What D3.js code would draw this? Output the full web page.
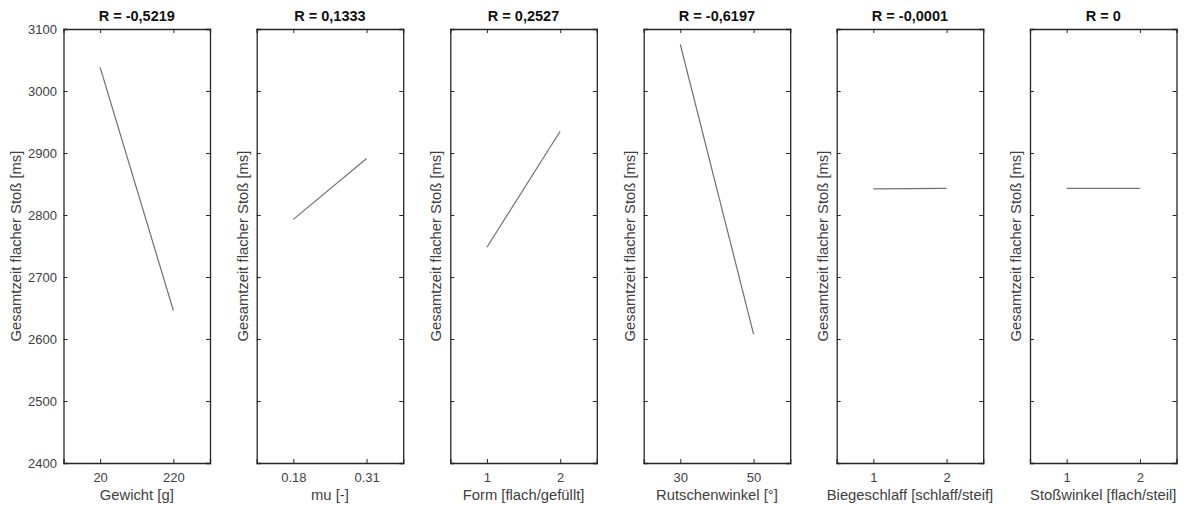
<!DOCTYPE html>
<html>
<head>
<meta charset="utf-8">
<script src="https://cdn.jsdelivr.net/npm/d3@7"></script>
<style>
  html, body { margin: 0; padding: 0; background: #fff; }
  svg { display: block; font-family: "Liberation Sans", Arial, sans-serif; }
</style>
</head>
<body>
<svg id="chart" width="1184" height="505"></svg>
<script>
// ---- data ----
const titles = ["R = -0,5219", "R = 0,1333", "R = 0,2527", "R = -0,6197", "R = -0,0001", "R = 0"];
const xLabels = ["Gewicht [g]", "mu [-]", "Form [flach/gefüllt]", "Rutschenwinkel [°]", "Biegeschlaff [schlaff/steif]", "Stoßwinkel [flach/steil]"];
const xLevels = [[20, 220], [0.18, 0.31], [1, 2], [30, 50], [1, 2], [1, 2]];
const meanValues = [[3038, 2646], [2793, 2891], [2748, 2935], [3075, 2608], [2842, 2843], [2843, 2843]];
const yTicks = [2400, 2500, 2600, 2700, 2800, 2900, 3000, 3100];
const yLabel = "Gesamtzeit flacher Stoß [ms]";

// ---- layout ----
const svg = d3.select("#chart");
const panelLefts = [63.5, 256.7, 450.3, 643.7, 836.7, 1030];
const panelW = 146.5;
const plotTop = 29, plotBottom = 463;
const axisColor = "#262626";
const textColor = "#404040";

const y = d3.scaleLinear().domain([2400, 3100]).range([plotBottom, plotTop]);

panelLefts.forEach((left, i) => {
  const [a, b] = xLevels[i];
  const d = b - a;
  const x = d3.scaleLinear().domain([a - d / 2, b + d / 2]).range([left, left + panelW]);
  const g = svg.append("g");

  // line
  const pts = xLevels[i].map((v, k) => [v, meanValues[i][k]]);
  g.append("path")
    .datum(pts)
    .attr("fill", "none")
    .attr("stroke", "#707070")
    .attr("stroke-width", 1.2)
    .attr("d", d3.line().x(p => x(p[0])).y(p => y(p[1])));

  const fmtX = v => String(v);

  const gb = g.append("g").attr("transform", `translate(0,${plotBottom})`)
    .call(d3.axisBottom(x).tickValues(xLevels[i]).tickSize(-4).tickPadding(10).tickFormat(fmtX));
  const gt = g.append("g").attr("transform", `translate(0,${plotTop})`)
    .call(d3.axisTop(x).tickValues(xLevels[i]).tickSize(-4).tickFormat(""));
  const gl = g.append("g").attr("transform", `translate(${left},0)`)
    .call(d3.axisLeft(y).tickValues(yTicks).tickSize(-4).tickPadding(6.5).tickFormat(i === 0 ? d3.format("d") : ""));
  const gr = g.append("g").attr("transform", `translate(${left + panelW},0)`)
    .call(d3.axisRight(y).tickValues(yTicks).tickSize(-4).tickFormat(""));

  [gb, gt, gl, gr].forEach(ax => {
    ax.select(".domain").attr("stroke", axisColor).attr("stroke-width", 1.3);
    ax.selectAll(".tick line").attr("stroke", axisColor).attr("stroke-width", 1);
    ax.selectAll(".tick text").attr("fill", textColor).attr("font-size", 13)
      .attr("font-family", "'Liberation Sans', Arial, sans-serif");
  });
  gb.selectAll(".tick text").attr("dy", "0.32em").attr("y", 14.5);

  g.append("text")
    .attr("x", left + panelW / 2).attr("y", 17)
    .attr("text-anchor", "middle").attr("dominant-baseline", "middle")
    .attr("font-weight", "bold").attr("font-size", 14.5).attr("fill", "#111")
    .text(titles[i]);

  g.append("text")
    .attr("x", left + panelW / 2).attr("y", 496)
    .attr("text-anchor", "middle").attr("dominant-baseline", "middle")
    .attr("font-size", 14.8).attr("fill", textColor)
    .text(xLabels[i]);

  const lx = i === 0 ? left - 46 : left - 13;
  g.append("text")
    .attr("transform", `translate(${lx},${(plotTop + plotBottom) / 2}) rotate(-90)`)
    .attr("text-anchor", "middle").attr("dominant-baseline", "middle")
    .attr("font-size", 14.8).attr("fill", textColor)
    .text(yLabel);
});
</script>
</body>
</html>
